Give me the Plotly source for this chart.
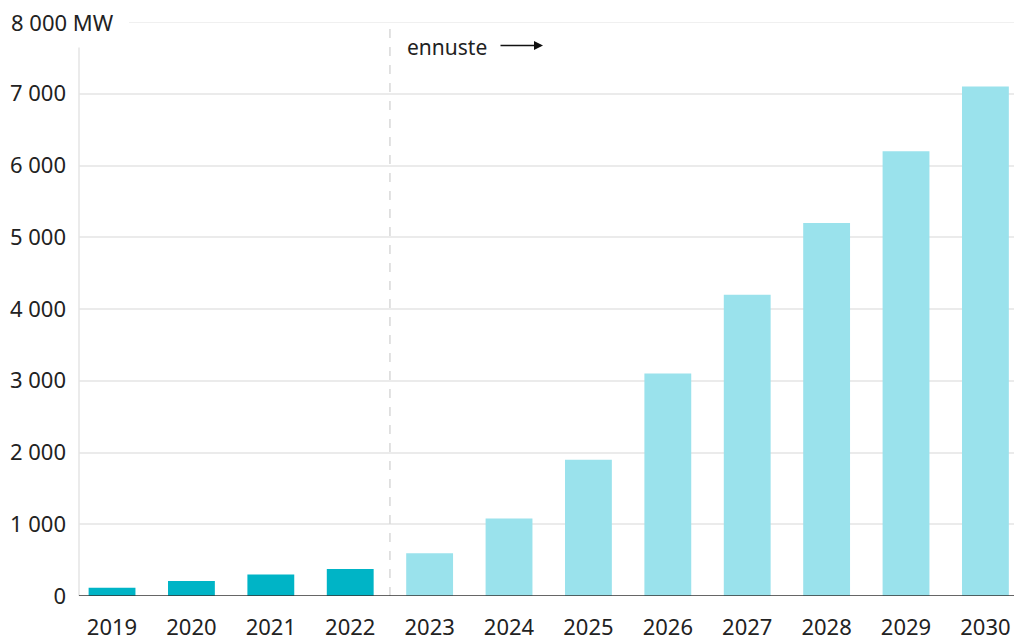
import plotly.graph_objects as go

# Installed capacity, MW (actual 2019–2022, forecast 2023–2030)
years = ["2019", "2020", "2021", "2022", "2023", "2024", "2025", "2026",
         "2027", "2028", "2029", "2030"]
capacity_mw = [115, 210, 300, 375, 595, 1080, 1900, 3100, 4200, 5200, 6200, 7100]
is_forecast = [False, False, False, False, True, True, True, True, True, True, True, True]

y_tick_vals = [0, 1000, 2000, 3000, 4000, 5000, 6000, 7000]
y_tick_text = ["0", "1 000", "2 000", "3 000", "4 000", "5 000", "6 000", "7 000"]
top_label = "8 000 MW"
top_value = 8000
forecast_label = "ennuste"

ACTUAL = "#00b4c6"
FORECAST = "#9ae2ec"
FONT = "Noto Sans"

W, H = 1014, 643
M_L, M_R, M_T, M_B = 79, 0, 21.6, 47
PW, PH = W - M_L - M_R, H - M_T - M_B


def px_x(px):
    return (px - M_L) / PW


def px_y(py):
    return (H - M_B - py) / PH


colors = [FORECAST if f else ACTUAL for f in is_forecast]

fig = go.Figure(go.Bar(
    x=list(range(len(years))), y=capacity_mw,
    marker=dict(color=colors, line=dict(width=0)),
    width=0.59, hoverinfo="x+y",
))

fig.update_layout(
    width=W, height=H,
    margin=dict(l=M_L, r=M_R, t=M_T, b=M_B, pad=0, autoexpand=False),
    paper_bgcolor="white", plot_bgcolor="white",
    font=dict(family=FONT, size=22, color="#222"),
    showlegend=False,
    xaxis=dict(
        range=[-0.416, 11.36], tickmode="array",
        tickvals=list(range(len(years))), ticktext=years,
        showgrid=False, zeroline=False, showline=False, ticks="",
        automargin=False,
        ticklabelstandoff=16, tickfont=dict(size=22, color="#222"),
    ),
    yaxis=dict(
        range=[0, top_value], tickmode="array",
        tickvals=y_tick_vals, ticktext=y_tick_text,
        showgrid=True, gridcolor="#ebebeb", gridwidth=1.5,
        zeroline=False, showline=False, ticks="",
        automargin=False,
        ticklabelstandoff=12, tickfont=dict(size=22, color="#222"),
    ),
    bargap=0.41,
)

shapes = [
    # top gridline, starts after the unit label
    dict(type="line", xref="paper", yref="y", x0=px_x(129), x1=1,
         y0=top_value, y1=top_value, line=dict(color="#ebebeb", width=1.5)),
    # left axis line
    dict(type="line", xref="paper", yref="paper", x0=0, x1=0,
         y0=0, y1=px_y(47), line=dict(color="#e4e4e4", width=1.5)),
    # forecast divider
    dict(type="line", xref="x", yref="paper", x0=3.5, x1=3.5,
         y0=0, y1=px_y(24), line=dict(color="#d8d8d8", width=1.5, dash="dash")),
    # baseline
    dict(type="line", xref="paper", yref="y", x0=0, x1=1, y0=0, y1=0,
         line=dict(color="#333", width=1.6)),
]
fig.update_layout(shapes=shapes)

fig.add_annotation(
    text=top_label, xref="paper", yref="y", x=px_x(9), y=top_value,
    xanchor="left", yanchor="middle", showarrow=False,
    font=dict(size=22, color="#222"),
)
fig.add_annotation(
    text=forecast_label, xref="paper", yref="paper", x=px_x(405), y=px_y(47),
    xanchor="left", yanchor="middle", showarrow=False,
    font=dict(size=21, color="#222"),
)
fig.add_annotation(
    text="", xref="paper", yref="paper", x=px_x(543), y=px_y(45),
    ax=-44, ay=0, showarrow=True, arrowhead=2, arrowsize=1.2,
    arrowwidth=1.5, arrowcolor="#111",
)

fig.write_html("out.html")
